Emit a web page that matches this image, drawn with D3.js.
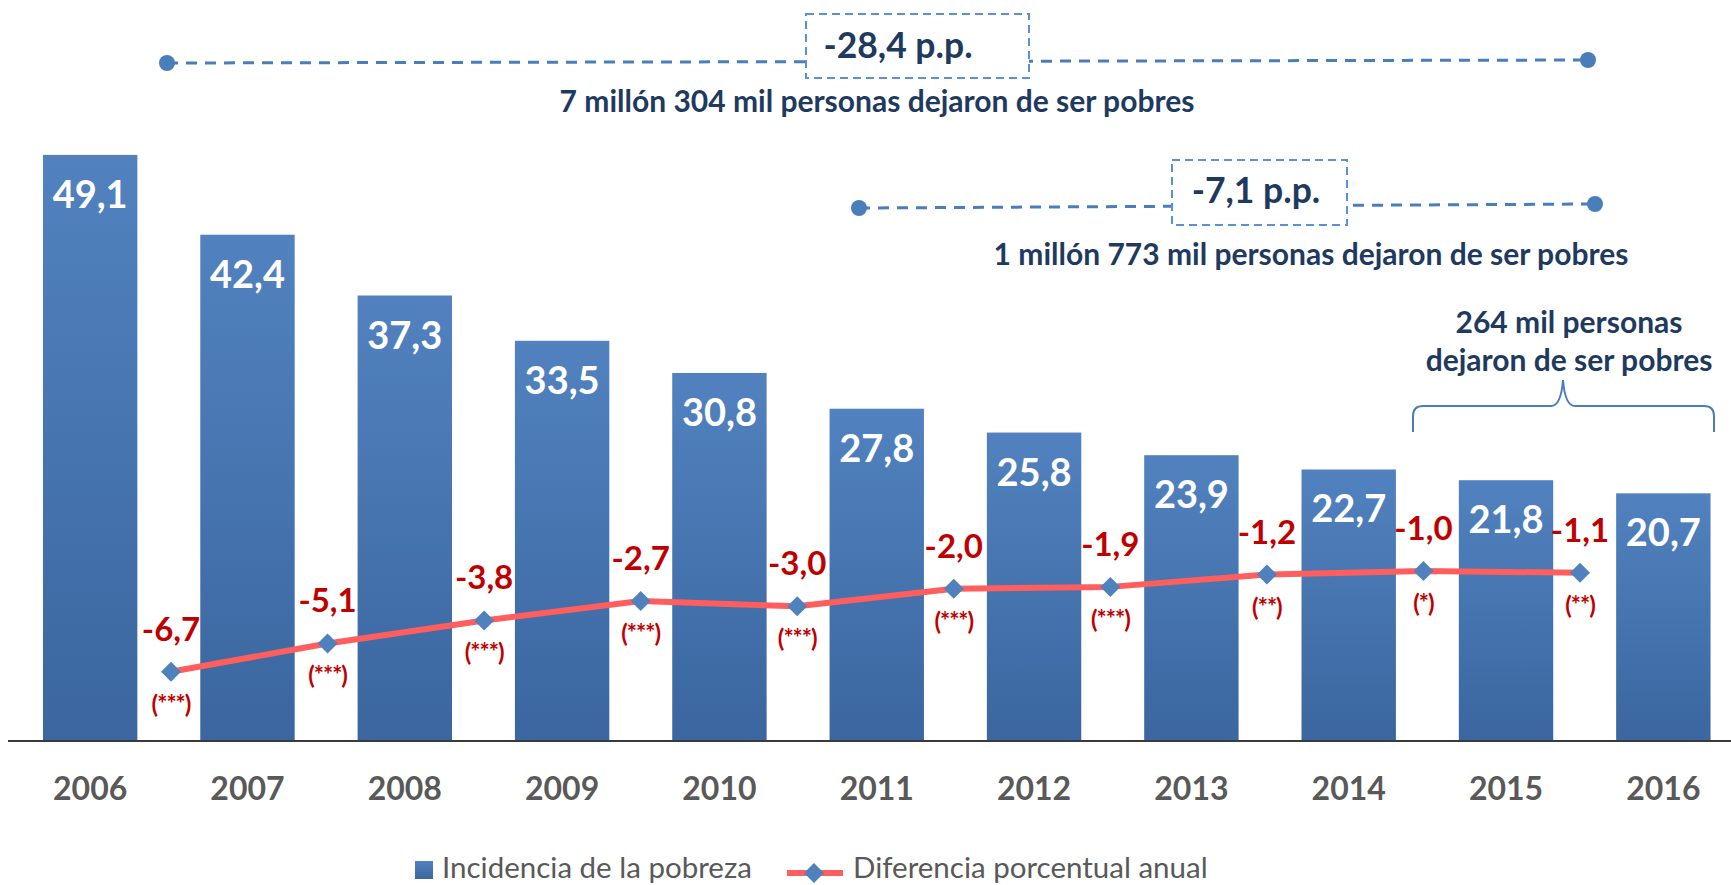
<!DOCTYPE html>
<html>
<head>
<meta charset="utf-8">
<script src="https://cdn.jsdelivr.net/npm/d3@7/dist/d3.min.js"></script>
<style>
  html, body { margin: 0; padding: 0; background: #fff; }
  svg { display: block; font-family: Lato, "Open Sans", sans-serif; }
</style>
</head>
<body>
<svg id="chart" width="1731" height="885"></svg>
<script>
// data
const years = ['2006', '2007', '2008', '2009', '2010', '2011', '2012', '2013', '2014', '2015', '2016'];
const incidencia = [49.1, 42.4, 37.3, 33.5, 30.8, 27.8, 25.8, 23.9, 22.7, 21.8, 20.7];
const diferencia = [-6.7, -5.1, -3.8, -2.7, -3.0, -2.0, -1.9, -1.2, -1.0, -1.1];
const significancia = ['(***)', '(***)', '(***)', '(***)', '(***)', '(***)', '(***)', '(**)', '(*)', '(**)'];
const pasos = ['06-07', '07-08', '08-09', '09-10', '10-11', '11-12', '12-13', '13-14', '14-15', '15-16'];

const legendLabels = ['Incidencia de la pobreza', 'Diferencia porcentual anual'];
const totalPP = '-28,4 p.p.';
const totalTexto = '7 millón 304 mil personas dejaron de ser pobres';
const tramoPP = '-7,1 p.p.';
const tramoTexto = '1 millón 773 mil personas dejaron de ser pobres';
const ultimoTexto = ['264 mil personas', 'dejaron de ser pobres'];

// comma decimals, plain hyphen as minus
const locale = d3.formatLocale({ decimal: ',', thousands: '.', grouping: [3], currency: ['', ''], minus: '-' });
const fmt = locale.format('.1f');

const svg = d3.select('#chart');
const navy = '#1F3A5F';
const lineBlue = '#4A7EBB';
const red = '#C00000';

// gradient for the bars
const defs = svg.append('defs');
const grad = defs.append('linearGradient')
  .attr('id', 'barGrad')
  .attr('x1', 0).attr('y1', 0).attr('x2', 0).attr('y2', 1);
grad.append('stop').attr('offset', '0%').attr('stop-color', '#5182BF');
grad.append('stop').attr('offset', '100%').attr('stop-color', '#3B669F');

// scales
const x = d3.scaleBand()
  .domain(years)
  .range([11.5, 1742])
  .paddingInner(0.4)
  .paddingOuter(0.2);

const y = d3.scaleLinear()
  .domain([0, 60])
  .range([740, 25]);

const xl = d3.scalePoint()
  .domain(pasos)
  .range([171, 1580]);

const yl = d3.scaleLinear()
  .domain([-8, 0])
  .range([694.7, 553.3]);

// bars
svg.selectAll('.bar')
  .data(incidencia)
  .enter()
  .append('rect')
  .attr('class', 'bar')
  .attr('x', (d, i) => x(years[i]))
  .attr('width', x.bandwidth())
  .attr('y', d => y(d))
  .attr('height', d => y(0) - y(d))
  .attr('fill', 'url(#barGrad)');

// bar value labels
svg.selectAll('.bar-label')
  .data(incidencia)
  .enter()
  .append('text')
  .attr('class', 'bar-label')
  .attr('x', (d, i) => x(years[i]) + x.bandwidth() / 2)
  .attr('y', d => y(d) + 53)
  .attr('text-anchor', 'middle')
  .style('font-size', '38px')
  .style('font-weight', '700')
  .style('fill', '#fff')
  .text(d => fmt(d));

// x axis
const xAxis = svg.append('g')
  .attr('transform', `translate(0,${y(0)})`)
  .call(d3.axisBottom(x).tickSize(0).tickPadding(0));
xAxis.select('.domain').remove();
xAxis.selectAll('text')
  .attr('y', 60)
  .attr('dy', 0)
  .style('font-family', 'Lato, sans-serif')
  .style('font-size', '32px')
  .style('font-weight', '700')
  .style('fill', '#595959');
svg.append('line')
  .attr('x1', 8).attr('x2', 1731)
  .attr('y1', y(0) + 1).attr('y2', y(0) + 1)
  .attr('stroke', '#3a3a3a')
  .attr('stroke-width', 2);

// annual difference line
const line = d3.line()
  .x((d, i) => xl(pasos[i]))
  .y(d => yl(d));

svg.append('path')
  .datum(diferencia)
  .attr('d', line)
  .attr('fill', 'none')
  .attr('stroke', '#FF5E5E')
  .attr('stroke-width', 6)
  .attr('stroke-linejoin', 'round');

const diamond = d3.symbol().type(d3.symbolSquare).size(200);
svg.selectAll('.marker')
  .data(diferencia)
  .enter()
  .append('path')
  .attr('class', 'marker')
  .attr('d', diamond)
  .attr('transform', (d, i) => `translate(${xl(pasos[i])},${yl(d)}) rotate(45)`)
  .attr('fill', '#4F81BD');

svg.selectAll('.dif-label')
  .data(diferencia)
  .enter()
  .append('text')
  .attr('class', 'dif-label')
  .attr('x', (d, i) => xl(pasos[i]))
  .attr('y', d => yl(d) - 31)
  .attr('text-anchor', 'middle')
  .style('font-size', '33px')
  .style('font-weight', '700')
  .style('fill', red)
  .text(d => fmt(d));

svg.selectAll('.sig-label')
  .data(significancia)
  .enter()
  .append('text')
  .attr('class', 'sig-label')
  .attr('x', (d, i) => xl(pasos[i]))
  .attr('y', (d, i) => yl(diferencia[i]) + 41)
  .attr('text-anchor', 'middle')
  .style('font-size', '24px')
  .style('font-weight', '700')
  .style('letter-spacing', '-1px')
  .style('fill', red)
  .text(d => d);

// annotation helpers
function dotted(x1, y1, x2, y2) {
  svg.append('line')
    .attr('x1', x1).attr('y1', y1).attr('x2', x2).attr('y2', y2)
    .attr('stroke', lineBlue)
    .attr('stroke-width', 3)
    .attr('stroke-dasharray', '11,8');
  svg.append('circle').attr('cx', x1).attr('cy', y1).attr('r', 8).attr('fill', lineBlue);
  svg.append('circle').attr('cx', x2).attr('cy', y2).attr('r', 8).attr('fill', lineBlue);
}

function box(bx, by, bw, bh) {
  svg.append('rect')
    .attr('x', bx).attr('y', by).attr('width', bw).attr('height', bh)
    .attr('fill', '#fff')
    .attr('stroke', '#5B8FD6')
    .attr('stroke-width', 2)
    .attr('stroke-dasharray', '8,5');
}

// whole period
dotted(167, 63, 1588, 60);
box(806, 14, 223, 64);
svg.append('text')
  .attr('x', 898).attr('y', 58)
  .attr('text-anchor', 'middle')
  .style('font-size', '35.5px').style('font-weight', '700').style('fill', navy)
  .text(totalPP);
svg.append('text')
  .attr('x', 877).attr('y', 112)
  .attr('text-anchor', 'middle')
  .style('font-size', '30px').style('font-weight', '700').style('fill', navy)
  .text(totalTexto);

// 2011-2016
dotted(859, 208, 1595, 204);
box(1172, 160, 175, 65);
svg.append('text')
  .attr('x', 1256).attr('y', 203)
  .attr('text-anchor', 'middle')
  .style('font-size', '35.5px').style('font-weight', '700').style('fill', navy)
  .text(tramoPP);
svg.append('text')
  .attr('x', 1311).attr('y', 265)
  .attr('text-anchor', 'middle')
  .style('font-size', '30px').style('font-weight', '700').style('fill', navy)
  .text(tramoTexto);

// last year
svg.selectAll('.ult')
  .data(ultimoTexto)
  .enter()
  .append('text')
  .attr('x', 1569)
  .attr('y', (d, i) => 333 + i * 38)
  .attr('text-anchor', 'middle')
  .style('font-size', '30px').style('font-weight', '700').style('fill', navy)
  .text(d => d);

svg.append('path')
  .attr('d', 'M1413,432 L1413,416 Q1413,406 1423,406 L1551,406 Q1561,406 1563,380 Q1565,406 1575,406 L1704,406 Q1714,406 1714,416 L1714,432')
  .attr('fill', 'none')
  .attr('stroke', lineBlue)
  .attr('stroke-width', 2);

// legend
const lg = svg.append('g');
lg.append('rect')
  .attr('x', 415).attr('y', 861).attr('width', 18).attr('height', 18)
  .attr('fill', 'url(#barGrad)');
lg.append('text')
  .attr('x', 442).attr('y', 878)
  .style('font-size', '29.5px').style('fill', '#595959')
  .text(legendLabels[0]);
lg.append('line')
  .attr('x1', 787).attr('x2', 843).attr('y1', 873).attr('y2', 873)
  .attr('stroke', '#FF5E5E').attr('stroke-width', 6);
lg.append('path')
  .attr('d', diamond)
  .attr('transform', 'translate(814,873) rotate(45)')
  .attr('fill', '#4F81BD');
lg.append('text')
  .attr('x', 853).attr('y', 878)
  .style('font-size', '29.5px').style('fill', '#595959')
  .text(legendLabels[1]);
</script>
</body>
</html>
